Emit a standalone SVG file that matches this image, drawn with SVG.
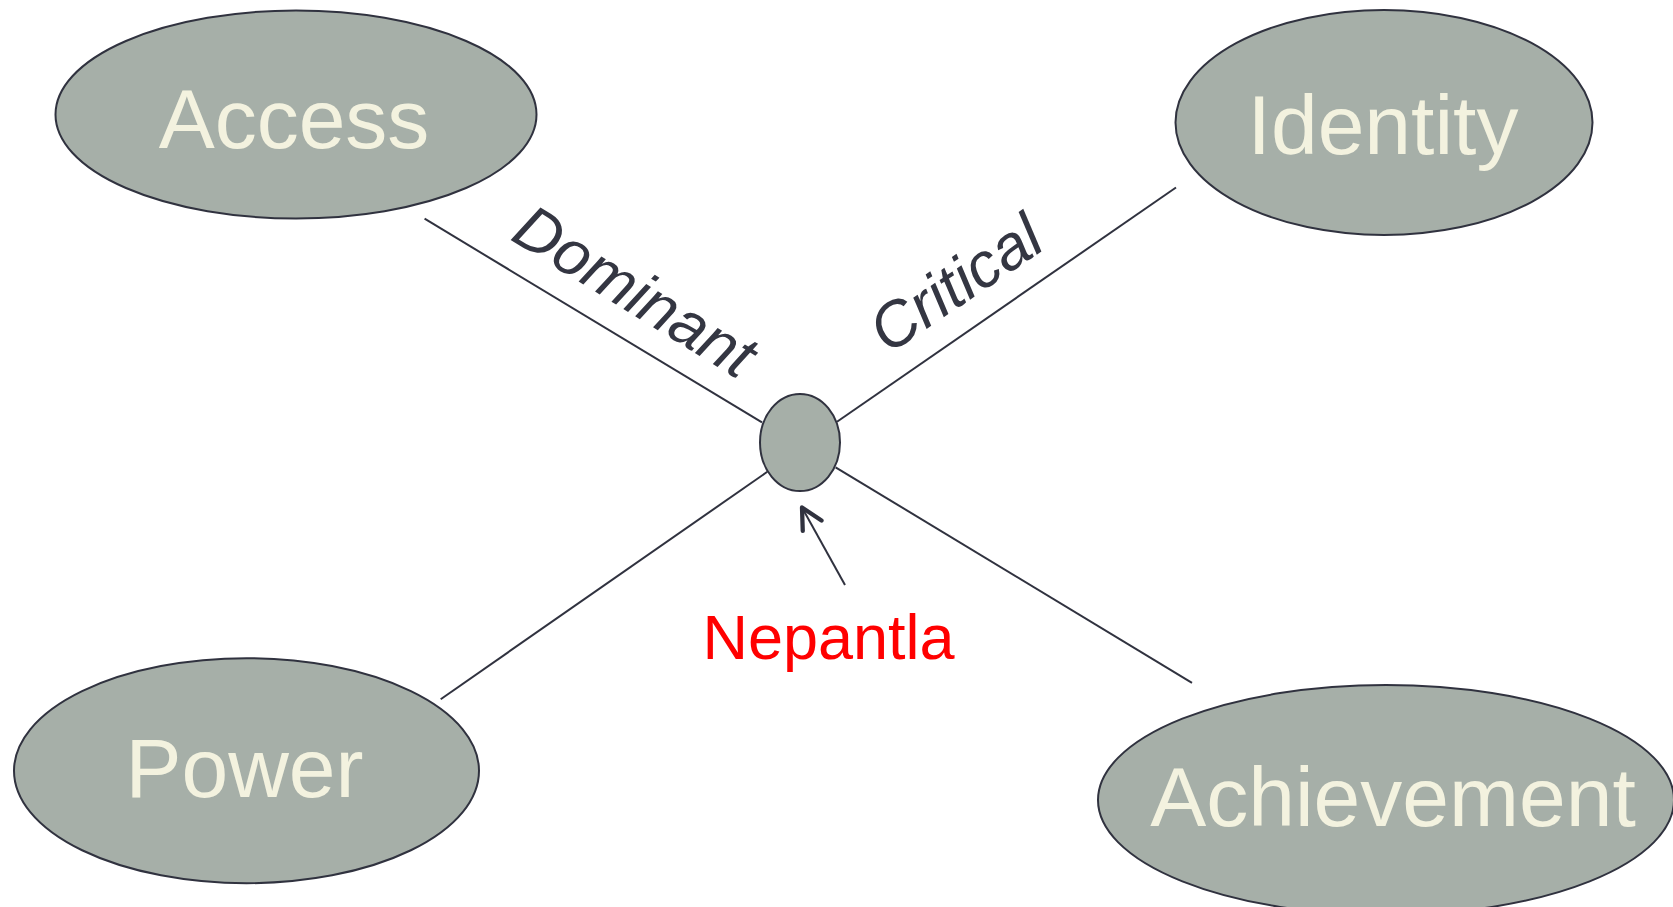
<svg xmlns="http://www.w3.org/2000/svg" width="1673" height="907" viewBox="0 0 1673 907">
  <style>
    .node { fill: #A6AFA8; stroke: #30323F; stroke-width: 2; }
    .node-label { font-family: "Liberation Sans", Arial, sans-serif; font-size: 84px; fill: #F3F2DF; text-anchor: middle; }
    .edge { stroke: #30323F; stroke-width: 2; fill: none; }
    .edge-label { font-family: "Liberation Sans", Arial, sans-serif; font-size: 63px; font-style: italic; fill: #343642; }
    .pointer { stroke: #30323F; stroke-width: 2; fill: none; }
    .callout { font-family: "Liberation Sans", Arial, sans-serif; font-size: 63px; fill: #FF0000; text-anchor: middle; }
  </style>
  <defs>
    <marker id="open-arrow" markerUnits="userSpaceOnUse" markerWidth="30" markerHeight="30" viewBox="-24 -14 28 28" refX="0" refY="0" orient="auto">
      <path d="M -19.5 -10 L 0 0 L -19.5 10" fill="none" stroke="#30323F" stroke-width="4" stroke-linecap="round" stroke-linejoin="round"/>
    </marker>
  </defs>
  <rect width="1673" height="907" fill="#FFFFFF"/>

  <g id="connectors">
    <line class="edge" x1="424.6" y1="218.7" x2="762" y2="422.4"/>
    <line class="edge" x1="837" y1="421.8" x2="1176" y2="187.5"/>
    <line class="edge" x1="440.7" y1="699.2" x2="767.3" y2="471.8"/>
    <line class="edge" x1="835.6" y1="467.3" x2="1192" y2="682.8"/>
    <text class="edge-label" transform="translate(509 239) rotate(31.5)">Dominant</text>
    <text class="edge-label" transform="translate(888 355) rotate(-34)">Critical</text>
  </g>

  <g id="node-access">
    <ellipse class="node" cx="296" cy="114.5" rx="240.5" ry="104"/>
    <text class="node-label" x="294" y="147.5">Access</text>
  </g>

  <g id="node-identity">
    <ellipse class="node" cx="1384" cy="122.5" rx="208.5" ry="112.5"/>
    <text class="node-label" x="1383" y="154">Identity</text>
  </g>

  <g id="node-power">
    <ellipse class="node" cx="246.5" cy="770.7" rx="232.5" ry="112.5"/>
    <text class="node-label" x="244.5" y="797">Power</text>
  </g>

  <g id="node-achievement">
    <ellipse class="node" cx="1386" cy="800" rx="288" ry="115"/>
    <text class="node-label" x="1393" y="826">Achievement</text>
  </g>

  <g id="node-nepantla">
    <ellipse class="node" cx="800" cy="442.5" rx="40" ry="48.5"/>
  </g>

  <g id="callout-nepantla">
    <line class="pointer" x1="845" y1="585" x2="802" y2="507.5" marker-end="url(#open-arrow)"/>
    <text class="callout" x="828.5" y="659">Nepantla</text>
  </g>
</svg>
